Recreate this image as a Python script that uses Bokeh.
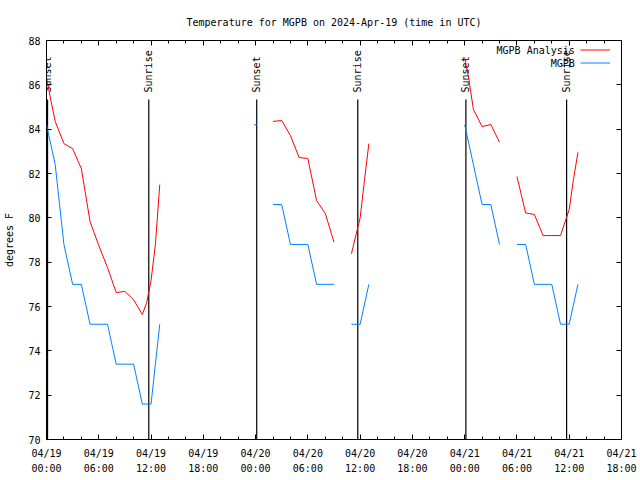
import math
from bokeh.plotting import figure
from bokeh.models import (Range1d, FixedTicker, LinearAxis, Legend, LegendItem,
                          Label, ColumnDataSource)
from bokeh.embed import file_html
from bokeh.resources import INLINE
from bokeh.core.properties import value

NaN = float("nan")

# ---------------- data ----------------
title_text = "Temperature for MGPB on 2024-Apr-19 (time in UTC)"
y_label = "degrees F"
series_names = ["MGPB Analysis", "MGPB"]

# hours since 2024-04-19 00:00 UTC
tick_hours = [0, 6, 12, 18, 24, 30, 36, 42, 48, 54, 60, 66]
tick_labels = ["04/19\n00:00", "04/19\n06:00", "04/19\n12:00", "04/19\n18:00",
               "04/20\n00:00", "04/20\n06:00", "04/20\n12:00", "04/20\n18:00",
               "04/21\n00:00", "04/21\n06:00", "04/21\n12:00", "04/21\n18:00"]
minor_hours = list(range(0, 67, 2))
y_ticks = [70, 72, 74, 76, 78, 80, 82, 84, 86, 88]

analysis_hours = [0, 0.5, 1, 2, 3, 4, 5, 6, 7, 8, 9, 10, 11, 11.5, 12, 12.5, 13, NaN,
                  26, 27, 28, 29, 30, 31, 32, 33, NaN,
                  35, 36, 36.5, 37, NaN,
                  48, 48.5, 49, 50, 51, 52, NaN,
                  54, 55, 56, 57, 58, 59, 60, 60.5, 61]
analysis_temps = [86.35, 85.3, 84.35, 83.35, 83.12, 82.22, 79.83, 78.75, 77.76, 76.63, 76.68,
                  76.3, 75.64, 76.18, 77.17, 78.8, 81.5, NaN,
                  84.35, 84.39, 83.71, 82.72, 82.68, 80.78, 80.2, 78.9, NaN,
                  78.38, 80.0, 81.7, 83.35, NaN,
                  87.23, 86.2, 84.89, 84.12, 84.21, 83.41, NaN,
                  81.86, 80.22, 80.15, 79.2, 79.2, 79.2, 80.38, 81.77, 82.95]

obs_hours = [0, 1, 2, 3, 4, 5, 6, 7, 8, 9, 10, 11, 12, 13, NaN,
             26, 27, 28, 29, 30, 31, 32, 33, NaN,
             35, 36, 37, NaN,
             48, 49, 50, 51, 52, NaN,
             54, 55, 56, 57, 58, 59, 60, 61]
obs_temps = [84.2, 82.4, 78.8, 77.0, 77.0, 75.2, 75.2, 75.2, 73.4, 73.4, 73.4, 71.6, 71.6, 75.2, NaN,
             80.6, 80.6, 78.8, 78.8, 78.8, 77.0, 77.0, 77.0, NaN,
             75.2, 75.2, 77.0, NaN,
             84.2, 82.4, 80.6, 80.6, 78.8, NaN,
             78.8, 78.8, 77.0, 77.0, 77.0, 75.2, 75.2, 77.0]
obs_single_hours = [24]
obs_single_temps = [84.2]

sun_hours = [0.12, 11.74, 24.13, 35.73, 48.14, 59.70]
sun_labels = ["Sunset", "Sunrise", "Sunset", "Sunrise", "Sunset", "Sunrise"]

# ---------------- style ----------------
FONT = "DejaVu Sans Mono"
FS = "10px"
RED = "#ff0000"
BLUE = "#0080ff"
SUN_LINE_TOP = 85.34

p = figure(frame_width=575, frame_height=399,
           min_border_left=46, min_border_right=19, min_border_top=40, min_border_bottom=41,
           x_range=Range1d(0, 66), y_range=Range1d(70, 88),
           output_backend="svg", toolbar_location=None, tools="",
           x_axis_location=None, y_axis_location=None)
p.background_fill_color = "white"
p.border_fill_color = "white"
p.outline_line_color = "black"
p.outline_line_width = 1
p.xgrid.visible = False
p.ygrid.visible = False

p.title.text = title_text
p.title.align = "center"
p.title.text_font = FONT
p.title.text_font_size = FS
p.title.text_font_style = "normal"
p.title.text_color = "black"
p.title.standoff = 26

xt = FixedTicker(ticks=tick_hours, minor_ticks=minor_hours)
yt = FixedTicker(ticks=y_ticks, minor_ticks=[])

def style_axis(ax, labels=True):
    ax.axis_line_color = None
    ax.major_tick_line_color = "black"
    ax.minor_tick_line_color = "black"
    ax.major_tick_out = 0
    ax.minor_tick_out = 0
    ax.major_label_text_font = FONT
    ax.major_label_text_font_size = FS if labels else "0px"
    ax.major_label_text_color = "black"
    if not labels:
        ax.major_label_standoff = 0

bottom = LinearAxis(ticker=xt)
style_axis(bottom)
bottom.major_tick_in = 5
bottom.minor_tick_in = 3
bottom.major_label_overrides = {h: s for h, s in zip(tick_hours, tick_labels)}
bottom.major_label_standoff = 8
bottom.major_label_text_line_height = 1.4
p.add_layout(bottom, "below")

top = LinearAxis(ticker=xt)
style_axis(top, labels=False)
top.major_tick_in = 5
top.minor_tick_in = 3
top.major_label_overrides = {h: "" for h in tick_hours}
p.add_layout(top, "above")

left = LinearAxis(ticker=yt, axis_label=y_label)
style_axis(left)
left.major_tick_in = 5
left.major_label_standoff = 6
left.axis_label_text_font = FONT
left.axis_label_text_font_size = FS
left.axis_label_text_font_style = "normal"
left.axis_label_text_color = "black"
left.axis_label_standoff = 10
p.add_layout(left, "left")

right = LinearAxis(ticker=yt)
style_axis(right, labels=False)
right.major_tick_in = 5
right.major_label_overrides = {t: "" for t in y_ticks}
p.add_layout(right, "right")

# sunrise / sunset markers
sun_src = ColumnDataSource(dict(x=sun_hours, y0=[70] * len(sun_hours),
                                y1=[SUN_LINE_TOP] * len(sun_hours), t=sun_labels))
p.segment(x0="x", y0="y0", x1="x", y1="y1", source=sun_src, line_color="black", line_width=1.2)
p.text(x="x", y="y1", text="t", source=sun_src, angle=math.pi / 2, text_align="left",
       text_baseline="middle", y_offset=-7, text_font=value(FONT), text_font_size=FS,
       text_color="black")

# series
r_an = p.line(analysis_hours, analysis_temps, line_color=RED, line_width=1)
r_ob = p.line(obs_hours, obs_temps, line_color=BLUE, line_width=1)
p.scatter(obs_single_hours, obs_single_temps, marker="dash", size=3, line_color=BLUE,
          line_width=1)

# legend (gnuplot style: text on the left, sample on the right)
legend = Legend(items=[LegendItem(label=" ", renderers=[r_an]),
                       LegendItem(label=" ", renderers=[r_ob])],
                location=(534, 370), glyph_width=30, glyph_height=13, label_height=13,
                label_width=0, label_standoff=0, padding=0, spacing=0, margin=0,
                border_line_alpha=0, background_fill_alpha=0, label_text_font_size=FS)
p.add_layout(legend)
for name, ypos in zip(series_names, [389, 376.4]):
    p.add_layout(Label(x=528.3, y=ypos, x_units="screen", y_units="screen", text=name,
                       text_align="right", text_baseline="middle", text_font=FONT,
                       text_font_size=FS, text_color="black"))

open("out.html", "w").write(file_html(p, INLINE))
